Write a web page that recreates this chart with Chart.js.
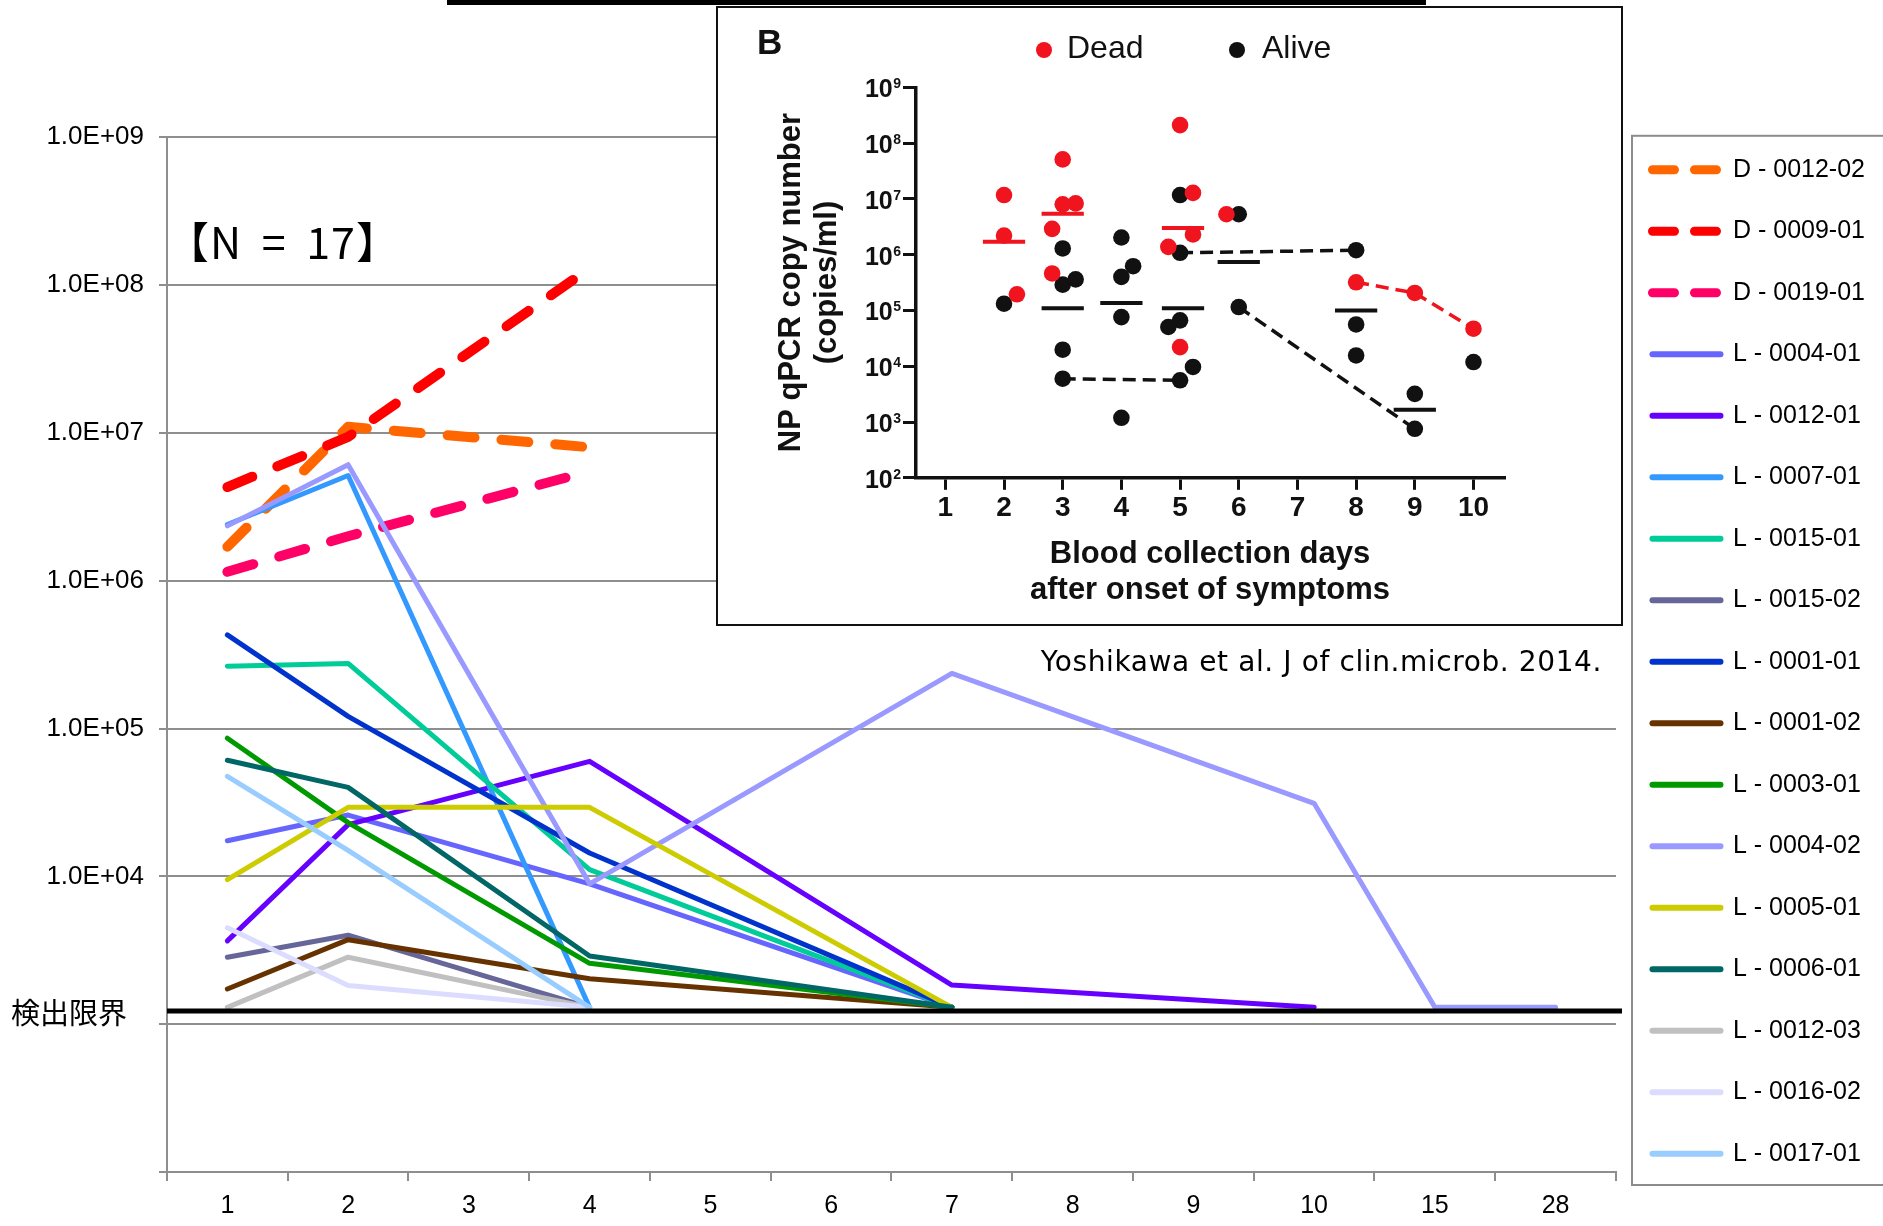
<!DOCTYPE html>
<html>
<head>
<meta charset="utf-8">
<title>Viral load by day after onset</title>
<script src="https://cdn.jsdelivr.net/npm/chart.js@4.4.1/dist/chart.umd.min.js"></script>
<style>
  html, body { margin: 0; padding: 0; background: #fff; }
  #page { position: relative; width: 1883px; height: 1226px; overflow: hidden; }
  #mainChart { position: absolute; left: 0; top: 0; }
  .topBar { position: absolute; left: 447px; top: 0; width: 979px; height: 5px; background: #000; }
  .note { position: absolute; white-space: nowrap; line-height: 1; color: #000; }
  #countNote { left: 166px; top: 209px; font: 43px "Noto Sans CJK JP"; letter-spacing: 1px; word-spacing: 9px; }
  #limitNote { left: 11px; top: 990px; font: 29px "Noto Sans CJK JP"; }
  #citeNote { right: 281px; top: 645px; font: 28px "DejaVu Sans"; letter-spacing: 0.6px; }
  #inset { position: absolute; left: 716px; top: 6px; width: 907px; height: 620px;
           border: 2px solid #111; box-sizing: border-box; background: #fff; }
  #insetChart { position: absolute; left: 0; top: 0; }
  .inText { position: absolute; white-space: nowrap; line-height: 1; color: #111;
            font-family: "Liberation Sans", Arial, sans-serif; }
  .dot { position: absolute; width: 16px; height: 16px; border-radius: 50%; }
</style>
</head>
<body>
<div id="page">
  <canvas id="mainChart" width="1883" height="1226" style="width:1883px;height:1226px"></canvas>
  <div class="topBar"></div>
  <div class="note" id="countNote">【N = 17】</div>
  <div class="note" id="limitNote">検出限界</div>
  <div class="note" id="citeNote">Yoshikawa et al. J of clin.microb. 2014.</div>

  <div id="inset">
    <canvas id="insetChart" width="903" height="616" style="width:903px;height:616px"></canvas>
    <div class="inText" style="left:39px;top:16px;font-size:35px;font-weight:bold">B</div>
    <div class="dot" style="left:318px;top:34px;background:#f0141e"></div>
    <div class="inText" style="left:349px;top:23px;font-size:32px">Dead</div>
    <div class="dot" style="left:511px;top:34px;background:#111"></div>
    <div class="inText" style="left:544px;top:23px;font-size:32px">Alive</div>
  </div>
</div>

<script>
const family = "'Liberation Sans', Arial, sans-serif";
const ink = "#111";
const N = null;

// ---- main chart: copies per patient, by day after onset ----
const days = ["1", "2", "3", "4", "5", "6", "7", "8", "9", "10", "15", "28"];
const yTickValues = [1e2, 1e3, 1e4, 1e5, 1e6, 1e7, 1e8, 1e9];
const yTickLabels = ["", "", "1.0E+04", "1.0E+05", "1.0E+06", "1.0E+07", "1.0E+08", "1.0E+09"];
const detectionLimit = 1230;

const d0012_02 = [1.7e6, 1.1e7, N, 8.0e6, N, N, N, N, N, N, N, N];
const d0009_01 = [4.3e6, 9.4e6, N, 1.3e8, N, N, N, N, N, N, N, N];
const d0019_01 = [1.15e6, 2.0e6, N, 5.5e6, N, N, N, N, N, N, N, N];
const l0004_01 = [1.74e4, 2.6e4, N, 8.9e3, N, N, 1300, N, N, N, N, N];
const l0012_01 = [3.66e3, 2.24e4, N, 6.0e4, N, N, 1.84e3, N, N, 1300, N, N];
const l0007_01 = [2.4e6, 5.15e6, N, 1300, N, N, N, N, N, N, N, N];
const l0015_01 = [2.64e5, 2.76e5, N, 1.11e4, N, N, 1300, N, N, N, N, N];
const l0015_02 = [2.84e3, 4.0e3, N, 1300, N, N, N, N, N, N, N, N];
const l0001_01 = [4.3e5, 1.21e5, N, 1.44e4, N, N, 1300, N, N, N, N, N];
const l0001_02 = [1.73e3, 3.73e3, N, 2.03e3, N, N, 1300, N, N, N, N, N];
const l0003_01 = [8.6e4, 2.31e4, N, 2.58e3, N, N, 1300, N, N, N, N, N];
const l0004_02 = [2.35e6, 6.1e6, N, 8.9e3, N, N, 2.36e5, N, N, 3.12e4, 1300, 1300];
const l0005_01 = [9.5e3, 2.93e4, N, 2.93e4, N, N, 1300, N, N, N, N, N];
const l0006_01 = [6.1e4, 4.0e4, N, 2.89e3, N, N, 1300, N, N, N, N, N];
const l0012_03 = [1300, 2.84e3, N, 1300, N, N, N, N, N, N, N, N];
const l0016_02 = [4.5e3, 1.83e3, N, 1300, N, N, N, N, N, N, N, N];
const l0017_01 = [4.75e4, 1.5e4, N, 1300, N, N, N, N, N, N, N, N];

const patientIds = [
  "D - 0012-02", "D - 0009-01", "D - 0019-01", "L - 0004-01", "L - 0012-01",
  "L - 0007-01", "L - 0015-01", "L - 0015-02", "L - 0001-01", "L - 0001-02",
  "L - 0003-01", "L - 0004-02", "L - 0005-01", "L - 0006-01", "L - 0012-03",
  "L - 0016-02", "L - 0017-01",
];
const patientValues = [
  d0012_02, d0009_01, d0019_01, l0004_01, l0012_01, l0007_01, l0015_01, l0015_02,
  l0001_01, l0001_02, l0003_01, l0004_02, l0005_01, l0006_01, l0012_03, l0016_02, l0017_01,
];
const patientColors = [
  "#ff6600", "#ff0000", "#ff0066", "#6666ff", "#6600ff", "#3399ff", "#00cc99", "#666699",
  "#0033cc", "#663300", "#009900", "#9999ff", "#cccc00", "#006666", "#c0c0c0", "#dcdcff", "#99ccff",
];

// dead patients ("D") get the thick dashed style
const mainDatasets = patientIds.map((id, i) => {
  const dead = id.startsWith("D");
  return {
    label: id,
    data: patientValues[i],
    borderColor: patientColors[i],
    backgroundColor: patientColors[i],
    borderWidth: dead ? 10 : 5,
    borderDash: dead ? [27, 27] : [],
    borderCapStyle: "round",
    borderJoinStyle: "round",
    pointRadius: 0,
    spanGaps: true,
    tension: 0,
    order: patientIds.length - i, // later series on top, like the spreadsheet
  };
});

// thick black line at the detection limit
const detectionLine = {
  id: "detectionLine",
  afterDatasetsDraw(chart) {
    const { ctx, chartArea, scales } = chart;
    const y = scales.y.getPixelForValue(detectionLimit);
    ctx.save();
    ctx.strokeStyle = "#000";
    ctx.lineWidth = 5;
    ctx.beginPath();
    ctx.moveTo(chartArea.left, y);
    ctx.lineTo(chartArea.right + 6, y);
    ctx.stroke();
    ctx.restore();
  },
};

// grey frame round the legend
const legendFrame = {
  id: "legendFrame",
  afterDraw(chart) {
    const lg = chart.legend;
    const ctx = chart.ctx;
    ctx.save();
    ctx.strokeStyle = "#8c8c8c";
    ctx.lineWidth = 2;
    ctx.strokeRect(lg.left + 16, lg.top + 15, lg.width + 40, lg.height - 56);
    ctx.restore();
  },
};

const gridGrey = "#8e8e8e";

new Chart(document.getElementById("mainChart"), {
  type: "line",
  data: { labels: days, datasets: mainDatasets },
  options: {
    responsive: false,
    animation: false,
    devicePixelRatio: 1,
    events: [],
    layout: { padding: { top: 120.8, left: 0, right: 8, bottom: 0 } },
    plugins: {
      tooltip: { enabled: false },
      // empty title only pushes the plot down below the legend start
      title: { display: true, text: " ", fullSize: false, font: { size: 10 }, padding: { top: 0, bottom: 4.5 } },
      legend: {
        position: "right",
        align: "start",
        labels: {
          usePointStyle: true,
          pointStyle: "line",
          pointStyleWidth: 68,
          padding: 36.5,
          color: "#000",
          font: { size: 25, family },
          sort: (a, b) => a.datasetIndex - b.datasetIndex,
          generateLabels: (chart) =>
            Chart.defaults.plugins.legend.labels.generateLabels(chart).map((item) => {
              const ds = chart.data.datasets[item.datasetIndex];
              return {
                ...item,
                pointStyle: "line",
                strokeStyle: ds.borderColor,
                lineWidth: ds.borderDash.length ? 9 : 6,
                lineDash: ds.borderDash.length ? [22, 20] : [],
                lineCap: "round",
              };
            }),
        },
      },
    },
    scales: {
      x: {
        type: "category",
        offset: true,
        afterFit: (s) => { s.height = 54; },
        grid: { offset: true, drawOnChartArea: false, tickLength: 9, color: gridGrey, lineWidth: 2 },
        border: { color: gridGrey, width: 2 },
        ticks: { color: "#000", font: { size: 25, family }, padding: 10, autoSkip: false, maxRotation: 0 },
      },
      y: {
        type: "logarithmic",
        min: 1e2,
        max: 1e9,
        afterFit: (s) => { s.width = 167; },
        afterBuildTicks: (s) => { s.ticks = yTickValues.map((v) => ({ value: v })); },
        grid: { color: gridGrey, lineWidth: 2, tickLength: 8 },
        border: { color: gridGrey, width: 2 },
        ticks: {
          color: "#000",
          font: { size: 26, family },
          padding: 15,
          autoSkip: false,
          callback: (v, i) => yTickLabels[i],
        },
      },
    },
  },
  plugins: [detectionLine, legendFrame],
});

// ---- inset B: blood qPCR copies, dead vs alive ----
const insetDays = [1, 2, 3, 4, 5, 6, 7, 8, 9, 10];
const insetTickValues = [1e2, 1e3, 1e4, 1e5, 1e6, 1e7, 1e8, 1e9];
const insetTickExps = ["2", "3", "4", "5", "6", "7", "8", "9"];

const deadDay = [2, 2, 2.22, 3, 3, 3.22, 2.82, 2.82, 5, 5.22, 5.22, 4.8, 5, 5.79, 8, 9, 10];
const deadCopies = [1.17e7, 2.2e6, 1.95e5, 5.1e7, 8.0e6, 8.3e6, 2.9e6, 4.6e5, 2.1e8, 1.28e7,
  2.3e6, 1.38e6, 2.2e4, 5.3e6, 3.2e5, 2.06e5, 4.7e4];
const aliveDay = [2, 3, 3, 3.22, 3, 3, 4, 4, 4.2, 4, 4, 5, 5, 5, 4.8, 5.22, 5, 6, 6, 8, 8, 8, 9, 9, 10];
const aliveCopies = [1.32e5, 1.29e6, 2.9e5, 3.6e5, 1.98e4, 5.97e3, 2.03e6, 4.0e5, 6.2e5, 7.6e4,
  1.19e3, 1.17e7, 1.08e6, 6.65e4, 5.05e4, 9.7e3, 5.6e3, 5.3e6, 1.15e5, 1.2e6, 5.6e4, 1.56e4,
  3.2e3, 755, 1.19e4];

const deadMedianDay = [2, 3, 5.05];
const deadMedian = [1.7e6, 5.4e6, 3.0e6];
const aliveMedianDay = [3, 4, 5.05, 6, 8, 9];
const aliveMedian = [1.1e5, 1.36e5, 1.1e5, 7.4e5, 1.0e5, 1.66e3];
const medianHalfWidth = 0.36;

// follow-up of the same patients (dashed)
const deadLinkDay = [8, 9, 10];
const deadLink = [3.2e5, 2.06e5, 4.7e4];
const aliveLinkADay = [3, 5];
const aliveLinkA = [5.97e3, 5.6e3];
const aliveLinkBDay = [5, 8];
const aliveLinkB = [1.08e6, 1.2e6];
const aliveLinkCDay = [6, 9];
const aliveLinkC = [1.15e5, 755];

const red = "#f0141e";

function toPoints(xs, ys) {
  return xs.map((x, i) => ({ x, y: ys[i] }));
}

function medianBars(xs, ys) {
  return xs.flatMap((x, i) => [
    { x: x - medianHalfWidth, y: ys[i] },
    { x: x + medianHalfWidth, y: ys[i] },
    { x, y: null },
  ]);
}

function dashedLink(xs, ys, color) {
  return {
    data: toPoints(xs, ys),
    showLine: true,
    borderColor: color,
    borderWidth: 3.5,
    borderDash: [13, 7],
    pointRadius: 0,
    order: 3,
  };
}

// y labels as "10" with a raised exponent, placed on the scale's own ticks
const powerLabels = {
  id: "powerLabels",
  afterDraw(chart) {
    const { ctx } = chart;
    const s = chart.scales.y;
    ctx.save();
    ctx.fillStyle = ink;
    s.ticks.forEach((t, i) => {
      const y = s.getPixelForValue(t.value);
      const right = s.right - 13 - 2;
      ctx.font = "bold 14px " + family;
      ctx.textAlign = "right";
      ctx.textBaseline = "alphabetic";
      const expW = ctx.measureText(insetTickExps[i]).width;
      ctx.fillText(insetTickExps[i], right, y + 1);
      ctx.font = "bold 25px " + family;
      ctx.textBaseline = "middle";
      ctx.fillText("10", right - expW - 0.5, y + 3);
    });
    ctx.restore();
  },
};

new Chart(document.getElementById("insetChart"), {
  type: "scatter",
  data: {
    datasets: [
      { data: toPoints(aliveDay, aliveCopies), backgroundColor: ink, borderWidth: 0, pointRadius: 8.3, order: 1 },
      { data: toPoints(deadDay, deadCopies), backgroundColor: red, borderWidth: 0, pointRadius: 8.3, order: 0 },
      { data: medianBars(deadMedianDay, deadMedian), showLine: true, borderColor: red, borderWidth: 4, pointRadius: 0, order: 2 },
      { data: medianBars(aliveMedianDay, aliveMedian), showLine: true, borderColor: ink, borderWidth: 4, pointRadius: 0, order: 2 },
      dashedLink(deadLinkDay, deadLink, red),
      dashedLink(aliveLinkADay, aliveLinkA, ink),
      dashedLink(aliveLinkBDay, aliveLinkB, ink),
      dashedLink(aliveLinkCDay, aliveLinkC, ink),
    ],
  },
  options: {
    responsive: false,
    animation: false,
    devicePixelRatio: 1,
    events: [],
    layout: { padding: { left: 50, top: 79.3, right: 117, bottom: 0 } },
    plugins: { legend: { display: false }, tooltip: { enabled: false } },
    scales: {
      x: {
        type: "linear",
        min: 0.5,
        max: 10.52,
        afterFit: (s) => { s.height = 146.2; },
        afterBuildTicks: (s) => { s.ticks = insetDays.map((v) => ({ value: v })); },
        grid: { drawOnChartArea: false, tickLength: 12, lineWidth: 3, color: ink },
        border: { color: ink, width: 3.5 },
        ticks: { color: ink, font: { size: 28, weight: "bold", family }, padding: 1.5, callback: (v) => String(v) },
        title: {
          display: true,
          text: ["Blood collection days", "after onset of symptoms"],
          color: ink,
          font: { size: 31, weight: "bold", family, lineHeight: "36px" },
          padding: { top: 0, bottom: 15.3 },
        },
      },
      y: {
        type: "logarithmic",
        min: 1e2,
        max: 1e9,
        afterFit: (s) => { s.width = 148; },
        afterBuildTicks: (s) => { s.ticks = insetTickValues.map((v) => ({ value: v })); },
        grid: { drawOnChartArea: false, tickLength: 13, lineWidth: 3, color: ink },
        border: { color: ink, width: 3.5 },
        ticks: { display: false },
        title: {
          display: true,
          text: ["NP qPCR copy number", "(copies/ml)"],
          color: ink,
          font: { size: 31, weight: "bold", family, lineHeight: "36px" },
          padding: { top: 5, bottom: 0 },
        },
      },
    },
  },
  plugins: [powerLabels],
});
</script>
</body>
</html>
